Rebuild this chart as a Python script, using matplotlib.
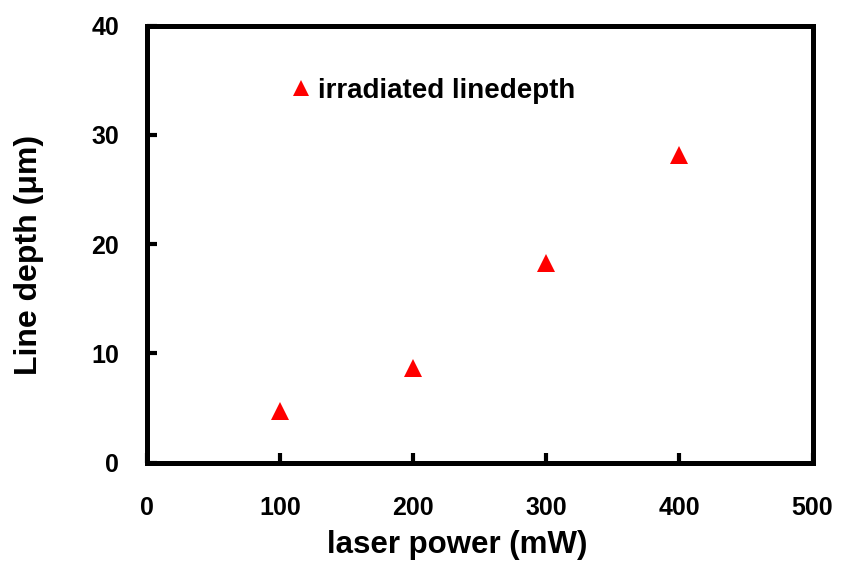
import matplotlib
matplotlib.use("Agg")
import matplotlib.pyplot as plt

# Measured line depth versus laser power
power_mw = [100, 200, 300, 400]
depth_um = [4.75, 8.65, 18.25, 28.15]
x_ticks = [0, 100, 200, 300, 400, 500]
y_ticks = [0, 10, 20, 30, 40]
series_label = "irradiated linedepth"

plt.rcParams["font.family"] = ["Liberation Sans", "DejaVu Sans"]
plt.rcParams["font.weight"] = "bold"

W, H = 842, 568
fig = plt.figure(figsize=(W / 100, H / 100), dpi=100)
left, right, top, bottom = 147, 812.5, 25.5, 462.7
ax = fig.add_axes([left / W, 1 - bottom / H, (right - left) / W, (bottom - top) / H])

ax.plot(power_mw, depth_um, linestyle="none", marker="^", markersize=13.5,
        color="#ff0000", markeredgewidth=0, label=series_label)

ax.set_xlim(0, 500)
ax.set_ylim(0, 40)
ax.set_xticks(x_ticks)
ax.set_yticks(y_ticks)

for sp in ax.spines.values():
    sp.set_linewidth(3.6)
    sp.set_color("black")

ax.tick_params(axis="both", direction="in", length=7, width=3, labelsize=18)
ax.tick_params(axis="x", pad=24)
ax.tick_params(axis="y", pad=20)
for lab in ax.get_xticklabels() + ax.get_yticklabels():
    lab.set_fontweight("bold")

fig.text(457 / W, 1 - 553 / H, "laser power (mW)", ha="center", va="baseline",
         fontsize=22.5, fontweight="bold")
fig.text(29 / W, 1 - 255 / H, "Line depth (μm)", ha="center", va="center",
         rotation=90, fontsize=23, fontweight="bold")

leg = ax.legend(loc="center left", bbox_to_anchor=(293.0 / W, 1 - 91 / H),
                bbox_transform=fig.transFigure, frameon=False, fontsize=20,
                markerscale=0.85, numpoints=1, handlelength=0.6,
                handletextpad=0.3, borderpad=0, borderaxespad=0)
for t in leg.get_texts():
    t.set_fontweight("bold")

fig.savefig("out.png", dpi=100, facecolor="white")
